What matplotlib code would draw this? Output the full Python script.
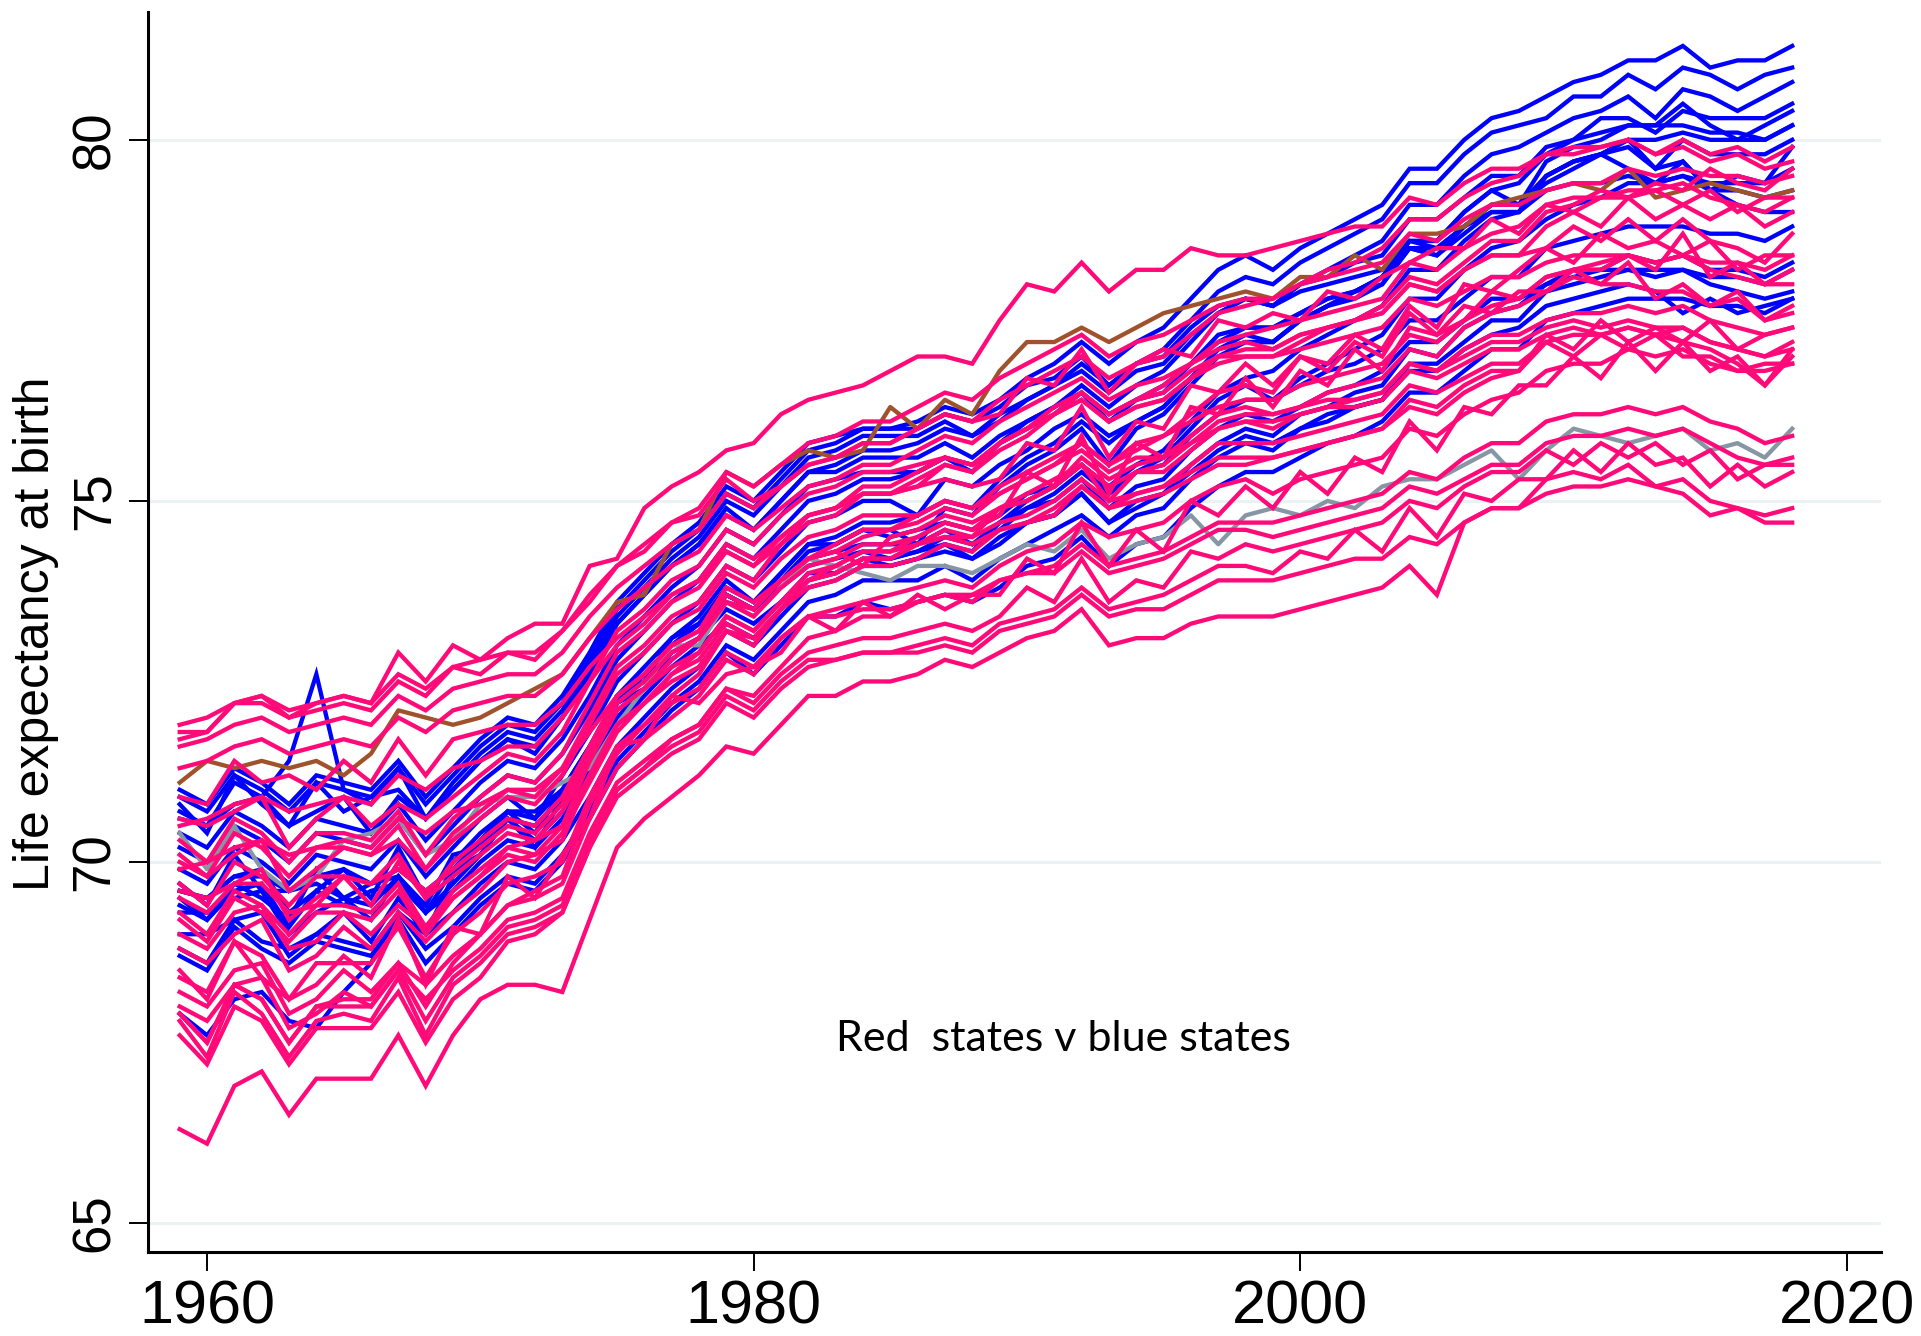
import matplotlib
matplotlib.use("Agg")
import matplotlib.pyplot as plt

years = list(range(1959, 2019))

# ---------------- blue states ----------------
blue_01 = [70.9,70.7,71.2,71.0,70.7,71.1,71.0,70.9,71.3,70.8,
           71.2,71.6,71.9,71.8,72.2,72.8,73.5,73.9,74.3,74.6,
           75.1,74.9,75.3,75.7,75.8,76.0,76.0,76.1,76.3,76.2,
           76.4,76.7,76.9,77.2,76.9,77.2,77.4,77.8,78.2,78.4,
           78.2,78.5,78.7,78.9,79.1,79.6,79.6,80.0,80.3,80.4,
           80.6,80.8,80.9,81.1,81.1,81.3,81.0,81.1,81.1,81.3]
blue_02 = [70.6,70.5,70.8,70.9,70.5,70.7,70.9,70.4,70.9,70.6,
           71.0,71.4,71.7,71.6,72.0,72.6,73.3,73.7,74.1,74.4,
           74.8,74.6,75.0,75.4,75.5,75.7,75.7,75.8,76.0,75.9,
           76.1,76.4,76.6,76.9,76.6,76.9,77.1,77.5,77.9,78.1,
           78.0,78.3,78.5,78.7,78.9,79.4,79.4,79.8,80.1,80.2,
           80.3,80.6,80.6,80.9,80.7,81.0,80.9,80.7,80.9,81.0]
blue_03 = [70.2,70.0,70.5,70.3,70.0,70.4,70.3,70.2,70.6,70.1,
           70.5,70.9,71.2,71.1,71.5,72.1,72.8,73.2,73.6,73.9,
           74.4,74.2,74.6,75.0,75.1,75.3,75.3,75.4,75.6,75.5,
           75.8,76.1,76.3,76.6,76.3,76.6,76.8,77.2,77.6,77.8,
           77.7,78.0,78.2,78.4,78.6,79.1,79.1,79.5,79.8,79.9,
           80.1,80.3,80.4,80.6,80.3,80.7,80.6,80.4,80.6,80.8]
blue_04 = [69.6,69.5,69.8,69.9,69.3,69.6,69.9,69.7,69.8,69.4,
           70.1,70.2,70.7,70.4,71.0,71.4,72.3,72.5,73.1,73.3,
           73.8,73.6,74.0,74.4,74.5,74.7,74.7,74.8,75.0,74.9,
           75.3,75.6,75.8,76.1,75.8,76.1,76.3,76.7,77.1,77.3,
           77.2,77.5,77.7,77.9,78.1,78.6,78.6,79.0,79.3,79.4,
           79.8,80.0,80.3,80.3,80.1,80.4,80.3,80.3,80.3,80.5]
blue_05 = [69.4,69.2,69.7,69.5,69.2,69.9,69.5,69.4,69.8,69.3,
           69.7,70.1,70.6,70.3,70.7,71.3,72.0,72.4,72.8,73.1,
           73.7,73.5,73.9,74.3,74.4,74.6,74.6,74.4,74.9,74.8,
           75.2,75.5,75.7,76.0,75.5,76.0,76.2,76.6,77.0,77.2,
           77.2,77.5,77.7,77.9,78.1,78.6,78.6,79.0,79.3,79.1,
           79.7,79.9,80.0,80.2,80.2,80.5,80.2,80.0,80.2,80.4]
blue_06 = [70.8,70.4,71.2,70.8,70.5,71.1,70.7,70.9,71.0,70.6,
           71.1,71.5,71.8,71.7,72.1,72.7,73.4,73.8,74.2,74.5,
           75.0,74.8,75.2,75.6,75.7,75.9,75.9,75.9,76.1,75.9,
           76.2,76.4,76.6,76.8,76.5,76.8,76.9,77.3,77.6,77.8,
           77.7,78.0,78.1,78.3,78.4,78.9,78.9,79.2,79.5,79.5,
           79.9,80.0,80.1,80.2,80.2,80.2,80.1,80.1,80.0,80.2]
blue_07 = [69.9,69.7,70.2,70.0,69.7,70.1,70.0,69.9,70.3,69.8,
           70.2,70.6,70.9,70.6,71.2,71.8,72.5,72.9,73.3,73.6,
           74.1,73.9,74.3,74.7,74.8,75.0,75.0,74.8,75.3,75.2,
           75.5,75.7,76.0,76.2,75.9,76.1,76.3,76.7,77.1,77.2,
           77.2,77.5,77.7,77.8,78.0,78.5,78.4,78.8,79.1,79.1,
           79.5,79.7,79.8,79.9,79.6,80.0,79.8,79.8,79.8,80.0]
blue_08 = [70.4,70.2,70.7,70.5,70.2,70.6,70.5,70.4,70.8,70.3,
           70.7,71.1,71.4,71.3,71.7,72.3,73.0,73.4,73.8,74.1,
           74.6,74.4,74.8,75.2,75.3,75.4,75.4,75.4,75.6,75.4,
           75.8,76.0,76.2,76.5,76.1,76.4,76.6,76.9,77.3,77.4,
           77.4,77.6,77.8,77.9,78.1,78.5,78.5,78.8,79.1,79.1,
           79.4,79.6,79.8,79.6,79.4,79.7,79.3,79.5,79.4,79.9]
blue_09 = [69.3,69.3,69.5,69.6,69.0,69.3,69.5,69.2,69.8,69.3,
           69.6,70.0,70.3,70.2,70.6,71.2,71.9,72.3,72.7,73.0,
           73.3,73.1,73.5,73.9,74.0,74.2,74.2,74.3,74.5,74.4,
           74.6,74.9,75.1,75.4,75.1,75.4,75.6,76.0,76.4,76.6,
           76.4,76.7,76.9,77.1,77.3,77.8,77.8,78.2,78.5,78.6,
           78.9,79.1,79.2,79.4,79.4,79.5,79.4,79.4,79.4,79.6]
blue_10 = [71.0,70.8,71.3,71.1,70.8,71.2,71.1,71.0,71.4,70.9,
           71.3,71.7,72.0,71.9,72.3,72.9,73.6,74.0,74.4,74.7,
           75.2,75.0,75.4,75.8,75.9,76.0,76.0,76.0,76.2,76.1,
           76.3,76.6,76.7,77.0,76.6,76.9,77.0,77.4,77.7,77.8,
           77.7,77.9,78.0,78.1,78.2,78.6,78.5,78.8,79.0,79.0,
           79.3,79.4,79.4,79.5,79.4,79.5,79.3,79.3,79.2,79.3]
blue_11 = [69.7,69.4,70.1,69.6,69.6,69.8,69.9,69.5,70.2,69.5,
           70.0,70.4,70.7,70.6,71.0,71.6,72.3,72.7,73.1,73.4,
           73.9,73.6,74.0,74.4,74.4,74.6,74.5,74.6,74.7,74.6,
           74.8,75.1,75.2,75.5,75.1,75.4,75.5,75.9,76.2,76.4,
           76.4,76.6,76.8,76.9,77.1,77.5,77.5,77.8,78.1,78.1,
           78.5,78.6,78.7,78.8,78.8,78.8,78.7,78.7,78.6,78.8]
blue_12 = [69.5,69.2,69.6,69.7,69.1,69.6,69.4,69.6,69.7,69.3,
           69.9,70.1,70.6,70.2,70.9,71.3,72.2,72.4,72.9,73.1,
           73.5,73.3,73.6,74.0,74.0,74.2,74.1,74.2,74.3,74.2,
           74.4,74.7,74.8,75.1,74.7,75.0,75.1,75.5,75.8,76.0,
           75.9,76.2,76.3,76.5,76.6,77.1,77.0,77.4,77.6,77.7,
           78.0,78.2,78.2,78.4,78.3,78.4,78.2,78.2,78.1,78.3]
blue_13 = [68.8,68.6,69.2,68.9,68.8,69.0,68.9,68.8,69.3,68.8,
           69.1,69.5,69.8,69.7,70.1,70.7,71.4,71.8,72.2,72.5,
           73.0,72.8,73.2,73.6,73.7,73.9,73.9,73.9,74.1,73.9,
           74.2,74.4,74.6,74.8,74.5,74.8,74.9,75.3,75.6,75.8,
           75.7,76.0,76.1,76.3,76.4,76.9,76.9,77.2,77.5,77.5,
           77.9,78.0,78.1,78.2,78.2,78.2,78.1,78.1,78.0,78.2]
blue_14 = [68.7,68.5,69.1,68.8,68.6,68.9,68.8,68.7,69.2,68.6,
           69.0,69.4,69.7,69.6,70.0,70.6,71.3,71.7,72.1,72.4,
           72.9,72.6,73.0,73.4,73.4,73.6,73.5,73.6,73.7,73.6,
           73.8,74.1,74.2,74.5,74.1,74.4,74.5,74.9,75.2,75.4,
           75.4,75.6,75.8,75.9,76.1,76.5,76.5,76.8,77.1,77.1,
           77.5,77.6,77.7,77.8,77.8,77.8,77.7,77.7,77.6,77.8]
blue_15 = [69.6,69.5,69.8,69.8,69.6,69.7,69.5,69.7,69.9,69.6,
           69.9,70.3,70.6,70.5,70.9,71.5,72.2,72.6,73.0,73.3,
           73.7,73.5,73.8,74.1,74.2,74.3,74.2,74.3,74.4,74.2,
           74.5,74.7,74.8,75.1,74.7,74.9,75.1,75.4,75.7,75.9,
           75.8,76.0,76.2,76.3,76.4,76.8,76.8,77.1,77.3,77.4,
           77.7,77.8,77.9,78.0,77.9,77.6,77.8,77.6,77.7,77.8]
blue_16 = [67.9,67.6,68.1,68.2,67.8,67.7,68.2,68.6,69.3,69.0,
           69.8,70.3,70.7,70.7,71.0,71.6,72.2,72.6,73.0,73.3,
           73.7,73.5,73.9,74.2,74.3,74.4,74.4,74.4,74.6,74.4,
           74.7,74.9,75.0,75.3,74.9,75.2,75.3,75.7,76.0,76.2,
           76.1,76.3,76.5,76.6,76.8,77.2,77.2,77.5,77.8,77.8,
           78.0,78.1,78.2,78.2,78.1,78.2,78.0,77.9,77.8,77.9]
blue_17 = [70.7,70.5,71.1,70.9,71.4,72.6,71.0,70.8,71.3,70.6,
           71.0,71.4,71.7,71.5,72.0,72.6,73.3,73.7,74.1,74.4,
           74.9,74.6,75.0,75.4,75.4,75.6,75.6,75.6,75.8,75.6,
           75.9,76.1,76.3,76.5,76.2,76.4,76.5,76.9,77.2,77.4,
           77.4,77.6,77.8,77.9,78.0,78.5,78.4,78.7,79.0,79.0,
           79.5,79.7,79.8,80.0,79.6,79.7,79.3,79.1,79.0,79.0]
blue_18 = [69.0,69.0,69.2,69.3,68.7,69.0,69.3,68.9,69.5,69.0,
           69.3,69.7,70.0,69.9,70.3,70.9,71.6,72.0,72.4,72.7,
           73.2,73.0,73.4,73.8,73.9,74.1,74.1,74.2,74.4,74.3,
           74.7,75.0,75.2,75.5,75.2,75.5,75.7,76.1,76.5,76.7,
           76.8,77.1,77.3,77.5,77.7,78.2,78.2,78.6,78.9,79.0,
           79.5,79.7,79.8,80.0,80.0,80.1,80.0,80.0,80.0,80.2]

# ---------------- red states ----------------
red_01 = [71.9,72.0,72.2,72.3,72.1,72.2,72.3,72.2,72.6,72.4,
          72.7,72.8,72.9,72.9,73.2,73.7,74.1,74.4,74.7,74.9,
          75.4,75.2,75.5,75.8,75.9,76.1,76.1,76.3,76.5,76.4,
          76.7,76.9,77.1,77.3,77.0,77.2,77.3,77.5,77.7,77.8,
          77.8,78.0,78.1,78.2,78.3,78.7,78.6,78.9,79.1,79.1,
          79.3,79.4,79.4,79.6,79.5,79.6,79.5,79.5,79.4,79.5]
red_02 = [71.8,71.8,72.2,72.2,72.0,72.1,72.2,72.1,72.5,72.3,
          72.7,72.6,72.9,72.8,73.2,73.6,74.1,74.3,74.7,74.8,
          75.3,75.0,75.2,75.5,75.6,75.8,75.8,76.0,76.2,76.1,
          76.4,76.6,76.8,77.0,76.7,76.9,77.0,77.3,77.6,77.7,
          77.8,78.0,78.2,78.3,78.5,78.9,78.9,79.2,79.4,79.5,
          79.8,79.8,79.9,80.0,79.8,80.0,79.8,79.9,79.7,79.9]
red_03 = [71.6,71.7,71.9,72.0,71.8,71.9,72.0,71.9,72.3,72.1,
          72.4,72.5,72.6,72.6,72.9,73.4,73.8,74.1,74.4,74.6,
          75.1,74.9,75.2,75.5,75.6,75.8,75.8,76.0,76.2,76.1,
          76.2,76.7,76.6,77.1,76.5,76.9,77.1,77.0,77.5,77.4,
          77.6,77.5,77.9,77.8,78.1,78.3,78.5,78.5,78.9,78.7,
          79.1,79.0,79.2,79.2,79.3,79.1,79.3,79.0,79.2,79.2]
red_04 = [71.3,71.4,71.6,71.7,71.5,71.6,71.7,71.6,72.0,71.8,
          72.1,72.2,72.3,72.3,72.6,73.1,73.5,73.8,74.1,74.3,
          74.8,74.6,74.9,75.2,75.3,75.5,75.5,75.7,75.9,75.8,
          76.1,76.3,76.5,76.7,76.4,76.6,76.7,76.9,77.1,77.2,
          77.1,77.3,77.4,77.5,77.6,78.0,77.9,78.2,78.4,78.4,
          78.5,78.8,78.6,78.9,78.6,78.9,78.6,78.5,78.3,78.7]
red_05 = [71.7,71.8,72.2,72.3,72.0,72.2,72.3,72.2,72.9,72.5,
          73.0,72.8,73.1,73.3,73.3,74.1,74.2,74.9,75.2,75.4,
          75.7,75.8,76.2,76.4,76.5,76.6,76.8,77.0,77.0,76.9,
          77.5,78.0,77.9,78.3,77.9,78.2,78.2,78.5,78.4,78.4,
          78.5,78.6,78.7,78.8,78.8,79.2,79.1,79.4,79.6,79.6,
          79.8,79.9,79.9,80.0,79.8,79.9,79.7,79.8,79.6,79.7]
red_06 = [70.9,70.8,71.4,71.1,71.2,71.0,71.4,71.1,71.7,71.2,
          71.7,71.8,71.9,71.9,72.2,72.7,73.1,73.4,73.7,73.9,
          74.4,74.2,74.5,74.8,74.9,75.1,75.1,75.3,75.5,75.4,
          75.8,76.0,76.2,76.4,76.1,76.3,76.4,76.7,76.9,77.0,
          77.0,77.2,77.4,77.5,77.6,78.0,77.9,78.2,78.4,78.4,
          78.8,79.0,78.8,79.2,78.9,79.1,78.9,79.1,78.8,79.0]
red_07 = [70.5,70.6,70.8,70.9,70.7,70.8,70.9,70.8,71.2,71.0,
          71.3,71.4,71.6,71.6,72.0,72.5,73.0,73.3,73.7,73.9,
          74.3,74.1,74.4,74.8,74.9,75.2,75.2,75.4,75.6,75.5,
          75.8,76.0,76.3,76.5,76.2,76.4,76.5,76.8,77.0,77.1,
          77.1,77.3,77.4,77.5,77.7,78.1,78.0,78.3,78.6,78.6,
          79.0,79.1,79.3,79.2,79.4,79.3,79.6,79.4,79.3,79.6]
red_08 = [69.9,70.0,70.2,70.3,70.1,70.2,70.3,70.2,70.6,70.4,
          70.7,70.8,71.0,71.0,71.3,71.8,72.3,72.6,73.0,73.2,
          73.8,73.6,73.9,74.2,74.4,74.6,74.6,74.8,75.0,74.9,
          75.2,75.4,75.6,75.8,75.5,75.8,75.9,76.1,76.3,76.4,
          76.4,76.6,76.7,76.8,76.9,77.3,77.2,77.5,77.7,77.8,
          78.1,78.2,78.2,78.4,78.3,78.4,78.3,78.3,78.2,78.4]
red_09 = [70.6,70.5,70.7,70.9,70.2,70.6,70.9,70.5,70.8,70.6,
          70.9,71.2,71.5,71.4,71.8,72.5,73.2,73.5,73.9,74.1,
          74.6,74.4,74.8,75.1,75.2,75.4,75.4,75.5,75.6,75.5,
          75.8,76.0,76.2,76.4,76.1,76.3,76.4,76.7,77.0,77.0,
          77.0,77.1,77.2,77.3,77.4,77.8,77.7,77.9,78.1,78.1,
          78.3,78.4,78.4,78.4,78.3,78.4,78.2,78.1,78.0,78.0]
red_10 = [70.3,70.0,70.6,70.4,70.0,70.4,70.4,70.3,70.7,70.1,
          70.6,70.9,71.2,71.1,71.5,72.2,72.9,73.2,73.6,73.8,
          74.3,74.1,74.5,74.8,74.9,75.1,75.1,75.2,75.3,75.2,
          75.3,75.8,75.7,76.3,75.6,76.1,76.0,76.6,76.5,76.9,
          76.6,77.0,76.8,77.2,77.0,77.6,77.3,77.7,77.6,77.9,
          77.9,78.2,78.0,78.3,77.8,78.0,77.7,77.9,77.5,77.7]
red_11 = [70.0,69.8,70.1,70.3,69.6,69.9,70.2,70.1,70.3,69.9,
          70.3,70.6,70.9,70.8,71.2,71.9,72.6,72.9,73.3,73.5,
          74.0,73.8,74.2,74.5,74.6,74.8,74.8,74.8,75.0,74.9,
          75.1,75.3,75.5,75.7,75.4,75.6,75.6,75.9,76.2,76.3,
          76.2,76.3,76.4,76.4,76.5,76.9,76.8,77.0,77.2,77.2,
          77.4,77.5,77.4,77.5,77.4,77.4,77.2,77.1,77.0,77.1]
red_12 = [69.7,69.4,70.0,69.8,69.4,69.8,69.8,69.7,70.1,69.5,
          70.0,70.3,70.6,70.5,70.9,71.6,72.3,72.6,73.0,73.2,
          73.7,73.5,73.9,74.2,74.3,74.1,74.5,74.6,74.8,74.7,
          74.9,75.1,75.3,75.5,75.0,75.4,75.5,75.8,76.0,76.1,
          76.0,76.2,76.3,76.3,76.4,76.8,76.7,76.9,77.1,77.1,
          77.3,77.4,77.3,77.4,77.3,77.2,77.1,76.9,76.6,77.1]
red_13 = [69.5,69.3,69.7,69.7,69.3,69.4,69.8,69.4,70.0,69.5,
          69.8,70.1,70.4,70.3,70.7,71.4,72.1,72.4,72.8,73.1,
          73.6,73.5,73.9,74.2,74.3,74.5,74.6,74.7,74.9,74.8,
          75.1,75.3,75.5,75.8,75.5,75.7,75.9,76.2,76.5,76.6,
          76.5,77.0,76.9,77.3,77.1,77.7,77.4,78.0,77.9,78.2,
          78.5,78.3,78.7,78.5,78.6,78.4,78.6,78.2,78.4,78.4]
red_14 = [69.3,69.0,69.6,69.4,69.0,69.4,69.4,69.3,69.7,69.1,
          69.6,69.9,70.2,70.1,70.5,71.2,71.9,72.2,72.6,72.8,
          73.3,73.1,73.5,73.8,73.9,74.1,74.1,74.2,74.4,74.3,
          74.6,74.7,74.9,75.2,74.9,75.1,75.2,75.5,75.8,75.8,
          75.8,75.9,76.0,76.1,76.2,76.6,76.5,76.7,76.9,76.9,
          77.2,77.0,77.3,77.1,77.3,77.0,77.0,76.8,76.9,76.9]
red_15 = [69.2,68.9,69.5,69.3,68.9,69.3,69.3,69.2,69.6,69.0,
          69.5,69.8,70.1,70.0,70.4,71.1,71.8,72.2,72.6,72.9,
          73.4,73.2,73.6,73.9,74.1,74.3,74.3,74.5,74.7,74.6,
          74.8,75.4,75.2,75.9,75.1,75.8,75.6,76.3,76.2,76.7,
          76.3,76.8,76.6,77.1,76.8,77.4,77.3,77.5,77.9,77.8,
          78.1,78.2,78.3,78.4,78.2,78.7,78.1,78.3,78.0,78.2]
red_16 = [69.6,69.5,69.7,69.9,69.2,69.5,69.8,69.7,69.9,69.6,
          69.9,70.2,70.5,70.4,70.8,71.5,72.2,72.5,72.9,73.1,
          73.6,73.4,73.8,74.1,74.2,74.4,74.4,74.5,74.7,74.6,
          74.9,75.0,75.2,75.5,75.2,75.4,75.4,75.7,76.0,76.1,
          76.1,76.2,76.3,76.4,76.5,76.9,76.8,77.1,77.3,77.3,
          77.5,77.6,77.6,77.7,77.6,77.7,77.5,77.4,77.3,77.4]
red_17 = [70.1,69.8,70.4,70.2,69.8,70.2,70.2,70.1,70.5,69.9,
          70.4,70.7,71.0,70.9,71.3,72.0,72.7,73.0,73.4,73.6,
          74.1,73.9,74.4,74.7,74.8,75.1,75.1,75.2,75.5,75.4,
          75.7,75.9,76.2,76.5,76.2,76.4,76.6,76.9,77.2,77.3,
          77.4,77.5,77.6,77.7,77.8,78.3,78.2,78.5,78.7,78.8,
          79.1,79.2,79.2,79.3,79.3,79.4,79.2,79.1,79.0,79.2]
red_18 = [66.3,66.1,66.9,67.1,66.5,67.0,67.0,67.0,67.6,66.9,
          67.6,68.1,68.3,68.3,68.2,69.2,70.2,70.6,70.9,71.2,
          71.6,71.5,71.9,72.3,72.3,72.5,72.5,72.6,72.8,72.7,
          72.9,73.1,73.2,73.5,73.0,73.1,73.1,73.3,73.4,73.4,
          73.4,73.5,73.6,73.7,73.8,74.1,73.7,74.7,74.9,74.9,
          75.3,75.4,75.3,75.5,75.2,75.1,74.8,74.9,74.7,74.7]
red_19 = [67.9,67.5,68.3,68.1,67.5,68.0,68.0,68.0,68.5,67.8,
          68.4,68.7,69.1,69.2,69.4,70.3,71.0,71.3,71.6,71.8,
          72.3,72.1,72.5,72.8,72.8,72.9,72.9,72.9,73.0,72.9,
          73.2,73.3,73.4,73.7,73.4,73.5,73.5,73.7,73.9,73.9,
          73.9,74.0,74.1,74.2,74.2,74.5,74.4,74.7,74.9,74.9,
          75.1,75.2,75.2,75.3,75.2,75.3,75.0,74.9,74.8,74.9]
red_20 = [68.0,67.8,68.3,68.4,67.7,67.9,68.2,68.0,68.5,68.1,
          68.5,68.8,69.2,69.3,69.5,70.4,71.1,71.4,71.7,71.9,
          72.4,72.2,72.6,72.9,73.0,73.1,73.1,73.2,73.3,73.2,
          73.4,73.8,73.6,74.2,73.6,73.9,73.8,74.3,74.2,74.4,
          74.3,74.4,74.5,74.6,74.7,75.0,74.9,75.2,75.4,75.4,
          75.7,75.5,75.8,75.6,75.8,75.5,75.7,75.3,75.5,75.5]
red_21 = [68.5,68.1,68.9,68.7,68.1,68.6,68.6,68.6,69.1,68.4,
          69.0,69.3,69.7,69.8,70.0,70.9,71.6,71.9,72.2,72.4,
          72.9,72.7,73.1,73.4,73.4,73.5,73.5,73.6,73.7,73.6,
          73.9,74.0,74.0,74.3,74.0,74.1,74.2,74.4,74.6,74.6,
          74.5,74.6,74.7,74.8,74.9,75.2,75.1,75.3,75.5,75.5,
          75.8,75.9,75.9,76.0,75.9,76.0,75.8,75.6,75.5,75.6]
red_22 = [67.8,67.3,68.2,67.9,67.3,67.8,67.9,67.8,68.4,67.6,
          68.3,68.6,69.0,69.1,69.3,70.2,70.9,71.2,71.5,71.7,
          72.2,72.0,72.4,72.7,72.8,72.9,72.9,73.0,73.1,73.0,
          73.3,73.4,73.5,73.8,73.5,73.6,73.7,73.9,74.1,74.1,
          74.0,74.3,74.2,74.6,74.3,74.9,74.5,75.1,75.0,75.3,
          75.3,75.7,75.4,75.8,75.5,75.6,75.2,75.5,75.2,75.4]
red_23 = [68.2,68.0,68.5,68.6,67.9,68.1,68.5,68.2,68.6,68.3,
          68.7,69.0,69.4,69.5,69.7,70.6,71.3,71.7,72.0,72.3,
          72.8,72.6,73.1,73.4,73.5,73.6,73.7,73.8,73.9,73.8,
          74.1,74.3,74.4,74.7,74.5,74.6,74.7,75.0,75.2,75.3,
          75.1,75.3,75.4,75.5,75.6,76.0,75.9,76.2,76.4,76.5,
          76.8,76.9,76.9,77.1,77.0,77.1,76.9,76.8,76.8,76.9]
red_24 = [67.6,67.2,68.0,67.8,67.2,67.7,67.7,67.7,68.2,67.5,
          68.1,68.4,68.9,69.0,69.3,70.2,71.0,71.3,71.7,71.9,
          72.4,72.3,72.7,73.1,73.2,73.4,73.4,73.6,73.7,73.7,
          73.7,74.2,74.0,74.7,74.1,74.6,74.3,75.0,74.8,75.2,
          74.9,75.4,75.1,75.6,75.4,76.1,75.7,76.3,76.2,76.6,
          76.6,77.0,76.7,77.2,76.8,77.2,76.8,77.0,76.6,77.0]
red_25 = [68.4,68.2,68.9,68.4,68.1,68.3,68.7,68.4,69.2,68.3,
          69.1,69.0,69.8,69.5,70.1,70.6,71.6,71.7,72.3,72.2,
          72.6,72.7,72.9,73.4,73.2,73.6,73.4,73.7,73.5,73.7,
          73.9,74.0,74.1,74.4,74.1,74.2,74.3,74.5,74.7,74.7,
          74.7,74.8,74.9,75.0,75.1,75.4,75.3,75.6,75.8,75.8,
          76.1,76.2,76.2,76.3,76.2,76.3,76.1,76.0,75.8,75.9]
red_26 = [68.8,68.6,69.0,69.2,68.5,68.7,69.1,68.8,69.3,68.9,
          69.3,69.6,70.0,70.1,70.3,71.2,71.9,72.2,72.5,72.7,
          73.2,73.0,73.5,73.9,74.0,74.2,74.2,74.4,74.5,74.4,
          74.6,74.7,74.8,75.2,74.9,75.0,75.1,75.3,75.5,75.5,
          75.6,75.7,75.8,75.9,76.0,76.3,76.2,76.5,76.7,76.8,
          77.2,77.3,77.3,77.4,77.3,77.4,77.2,77.1,77.0,77.2]
red_27 = [67.9,67.5,68.3,68.1,67.5,68.0,68.1,68.1,68.6,68.0,
          68.6,69.0,69.4,69.6,69.8,70.8,71.5,71.9,72.3,72.6,
          73.2,73.1,73.5,73.9,74.0,74.2,74.2,74.4,74.5,74.5,
          74.9,75.0,75.2,75.6,75.3,75.5,75.6,75.8,76.1,76.2,
          76.2,76.3,76.5,76.6,76.7,77.1,77.0,77.4,77.6,77.7,
          77.9,78.1,78.0,78.0,77.9,77.9,77.7,77.8,77.5,77.6]
red_28 = [69.0,68.8,69.3,69.4,68.8,68.9,69.3,69.0,69.4,69.1,
          69.5,69.8,70.2,70.3,70.5,71.4,72.1,72.4,72.7,72.9,
          73.4,73.2,73.6,74.0,74.1,74.3,74.3,74.4,74.6,74.5,
          74.7,74.8,75.0,75.3,75.0,75.1,75.2,75.4,75.6,75.6,
          75.6,75.7,75.8,75.9,76.0,76.4,76.3,76.6,76.8,76.8,
          77.3,77.1,77.5,77.2,77.4,77.2,77.5,77.1,77.3,77.4]

# ---------------- highlighted series ----------------
brown_series = [71.1,71.4,71.3,71.4,71.3,71.4,71.2,71.5,72.1,72.0,
                71.9,72.0,72.2,72.4,72.6,73.1,73.6,73.7,74.4,74.6,
                75.4,75.2,75.5,75.7,75.6,75.7,76.3,76.0,76.4,76.2,
                76.8,77.2,77.2,77.4,77.2,77.4,77.6,77.7,77.8,77.9,
                77.8,78.1,78.1,78.4,78.2,78.7,78.7,78.8,79.1,79.2,
                79.3,79.4,79.3,79.6,79.2,79.3,79.4,79.3,79.2,79.3]
grey_series = [70.4,69.9,70.5,69.9,69.6,69.8,70.3,70.4,70.6,70.1,
               70.3,70.8,70.9,70.9,71.1,71.3,71.9,72.4,73.0,73.0,
               73.6,73.4,73.8,74.2,74.1,74.0,73.9,74.1,74.1,74.0,
               74.2,74.4,74.3,74.6,74.2,74.4,74.5,74.8,74.4,74.8,
               74.9,74.8,75.0,74.9,75.2,75.3,75.3,75.5,75.7,75.3,
               75.7,76.0,75.9,75.8,75.9,76.0,75.7,75.8,75.6,76.0]

blue_states = [blue_01, blue_02, blue_03, blue_04, blue_05, blue_06, blue_07,
               blue_08, blue_09, blue_10, blue_11, blue_12, blue_13, blue_14,
               blue_15, blue_16, blue_17, blue_18]
red_states = [red_01, red_02, red_03, red_04, red_05, red_06, red_07, red_08,
              red_09, red_10, red_11, red_12, red_13, red_14, red_15, red_16,
              red_17, red_18, red_19, red_20, red_21, red_22, red_23, red_24,
              red_25, red_26, red_27, red_28]

y_ticks = [65, 70, 75, 80]
x_ticks = [1960, 1980, 2000, 2020]
annotation = "Red  states v blue states"
y_title = "Life expectancy at birth"

BLUE = "#0000FF"
RED = "#FF0A78"
BROWN = "#A0522D"
GREY = "#8796A4"

for s in blue_states + red_states + [brown_series, grey_series]:
    assert len(s) == len(years), len(s)

W, H = 1921, 1336
fig = plt.figure(figsize=(W / 100, H / 100), dpi=100)
fig.patch.set_facecolor("white")
left, right, bottom, top = 148, 1881, 1252, 12
ax = fig.add_axes([left / W, (H - bottom) / H, (right - left) / W, (bottom - top) / H])

ax.set_xlim(1957.84, 2021.25)
ax.set_ylim(64.6, 81.77)

for yv in y_ticks:
    ax.axhline(yv, color="#EAF2F3", lw=2.2, zorder=0)

lw = 3.1
for s in blue_states:
    ax.plot(years, s, color=BLUE, lw=lw, solid_joinstyle="miter", zorder=2)
ax.plot(years, brown_series, color=BROWN, lw=lw, zorder=3)
ax.plot(years, grey_series, color=GREY, lw=lw, zorder=3)
for s in red_states:
    ax.plot(years, s, color=RED, lw=lw, solid_joinstyle="miter", zorder=4)

for sp in ["top", "right"]:
    ax.spines[sp].set_visible(False)
for sp in ["left", "bottom"]:
    ax.spines[sp].set_linewidth(2.2)
    ax.spines[sp].set_color("black")

ax.set_yticks(y_ticks)
ax.set_xticks(x_ticks)
ax.tick_params(axis="both", length=14, width=1.4, color="black")
ax.tick_params(axis="y", pad=6)
ax.tick_params(axis="x", pad=6)
ax.set_yticklabels([str(v) for v in y_ticks], rotation=90, va="center",
                   family=["Liberation Sans", "DejaVu Sans"], fontsize=38)
ax.set_xticklabels([str(v) for v in x_ticks],
                   family=["Liberation Sans Narrow", "Liberation Sans", "DejaVu Sans"],
                   fontsize=44)

fig.text(36 / W, 1 - 634 / H, y_title, rotation=90, ha="center", va="center",
         family=["Liberation Sans", "DejaVu Sans"], fontsize=36)

ax.text(1983.0, 67.38, annotation, ha="left", va="baseline",
        family=["Lato", "DejaVu Sans"], fontsize=31, color="black")

fig.savefig("out.png", dpi=100, facecolor="white")
